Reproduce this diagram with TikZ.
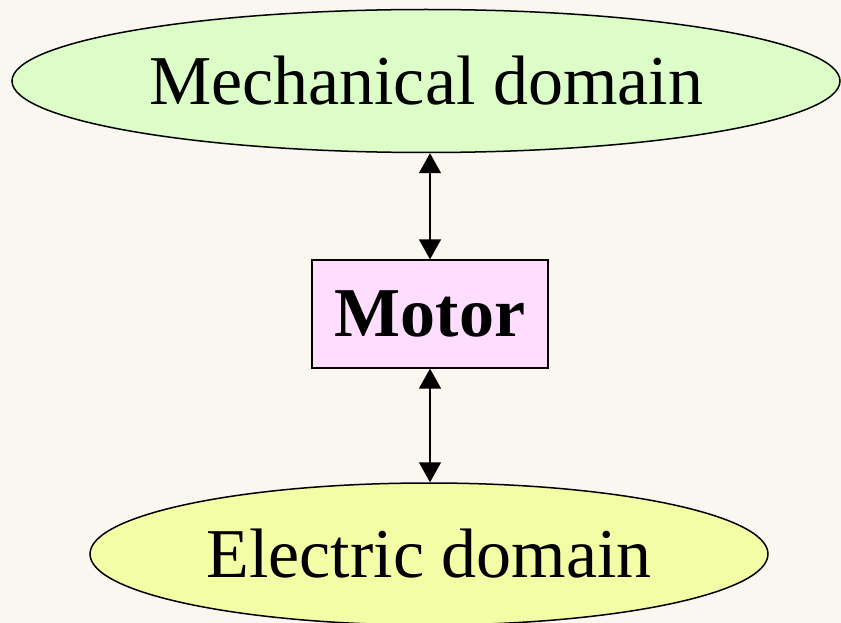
\documentclass[tikz,border=0pt]{standalone}
\usepackage{fontspec}
\setmainfont{Liberation Serif}
\usetikzlibrary{shapes.geometric,arrows.meta}
\definecolor{bgcream}{HTML}{FAF6F0}
\definecolor{mechgreen}{HTML}{DCFDC8}
\definecolor{elecyellow}{HTML}{F2FDA6}
\definecolor{motorpink}{HTML}{FFDDFF}
\tikzset{
  domainbox/.style={ellipse, draw, line width=1.5pt, inner sep=0pt, font=\fontsize{70}{84}\selectfont},
  block/.style={rectangle, draw, line width=1.3pt, fill=motorpink, inner sep=0pt, font=\fontsize{70}{84}\selectfont\bfseries},
  link/.style={line width=1.5pt, {Triangle[length=20pt,width=22pt]}-{Triangle[length=20pt,width=22pt]}}
}
\begin{document}
\begin{tikzpicture}[x=1pt, y=-1pt]
		% Background
		\fill[bgcream] (0,0) rectangle (841,623);
		\useasboundingbox (0,0) rectangle (841,623);
		
		% Domains and motor
		\node[domainbox, fill=mechgreen, minimum width=828pt, minimum height=143pt] (mech) at (426,81) {Mechanical domain};
		\node[block, minimum width=236pt, minimum height=108pt] (motor) at (430,314) {Motor};
		\node[domainbox, fill=elecyellow, minimum width=678pt, minimum height=142pt] (elec) at (429,554) {Electric domain};
		
		% Links
		\draw[link] (motor.north |- mech.south) -- (motor.north);
		\draw[link] (motor.south) -- (motor.south |- elec.north);
	\end{tikzpicture}
\end{document}
